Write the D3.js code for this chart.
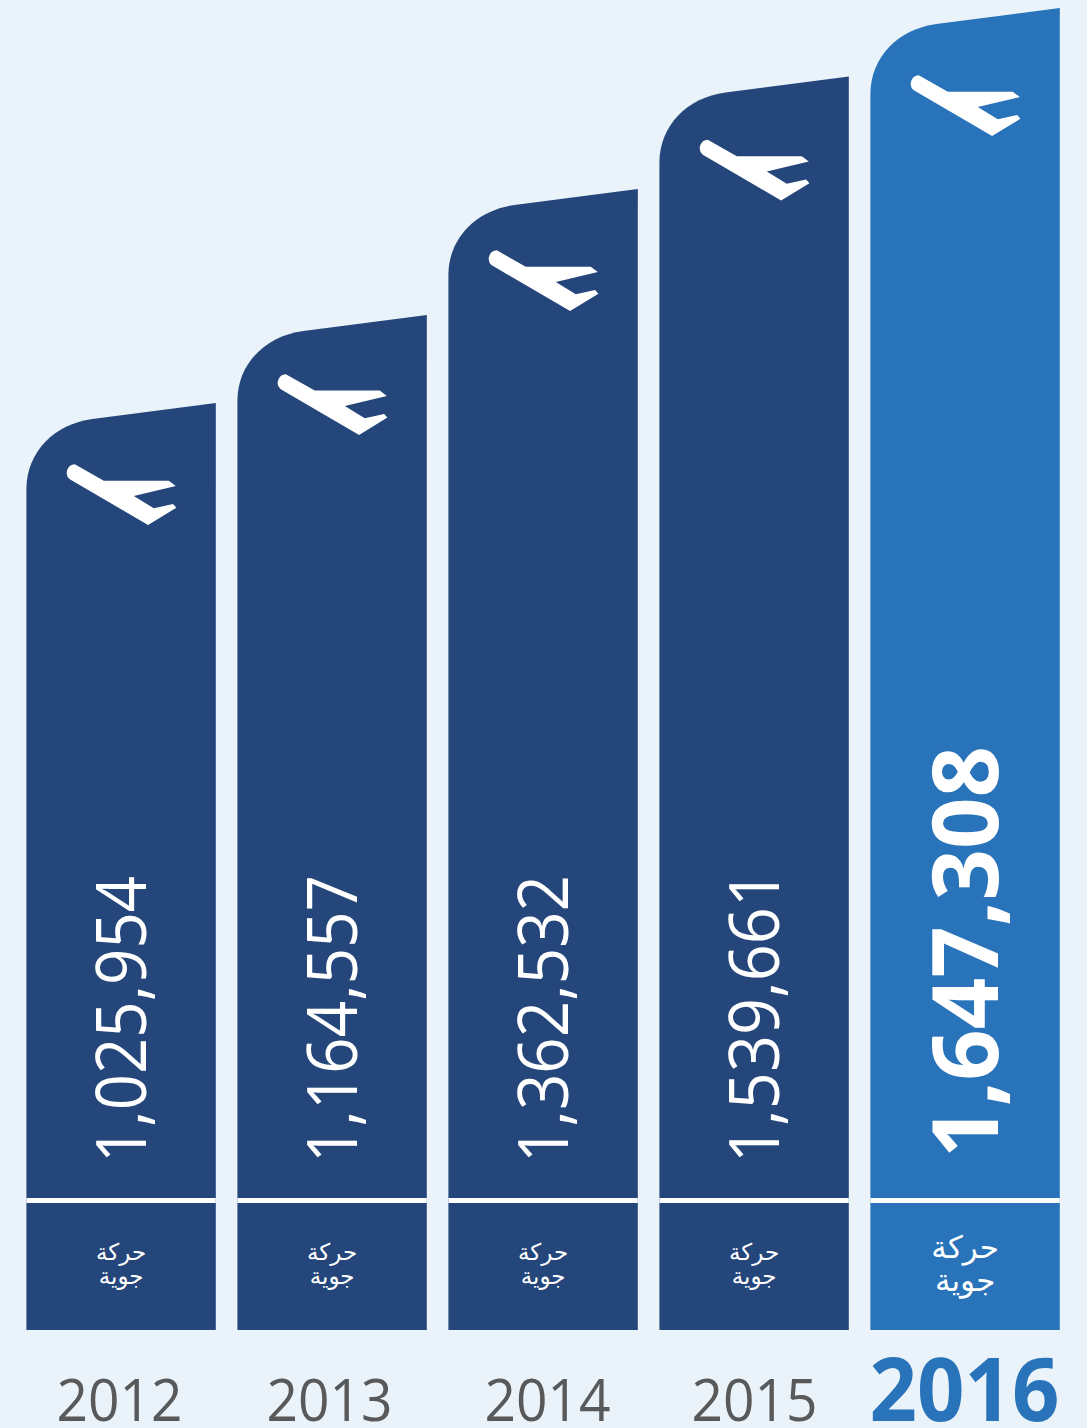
<!DOCTYPE html>
<html>
<head>
<meta charset="utf-8">
<script src="https://cdn.jsdelivr.net/npm/d3@7"></script>
<style>
html,body{margin:0;padding:0;background:#eaf3f9;}
svg{display:block;}
</style>
</head>
<body>
<div id="chart"></div>
<script>
var years = ["2012","2013","2014","2015","2016"];
var flights = [1025954,1164557,1362532,1539661,1647308];
var unitLines = ["حركة","جوية"];

var width = 1087, height = 1428;
var barBottom = 1330, ruleY = 1200;
var dark = "#24467a", bright = "#2873b9", grey = "#58595b";
var lastYear = "2016";

// plane and year label sit a little differently on each bar in the original
var planeNudge = {"2012":0,"2013":-2,"2014":0,"2015":2,"2016":6};
var yearNudge = {"2012":1,"2013":0,"2014":7,"2015":3,"2016":0};
// rotated figure lengths, the one ending in a 1 runs a bit longer
var figureLength = {"2012":287,"2013":288,"2014":288,"2015":293,"2016":412};

var svg = d3.select("#chart").append("svg")
	.attr("width",width)
	.attr("height",height);

svg.append("rect")
	.attr("width",width)
	.attr("height",height)
	.style("fill","#eaf3f9");

var x = d3.scaleBand().domain(years).range([26.4,1059.8]).paddingInner(21.6/211);
var y = d3.scaleLinear().domain([d3.min(flights),d3.max(flights)]).range([403,8]);
var fmt = d3.format(",");

function barColor(yr) {return yr==lastYear ? bright : dark;}

function barPath(d,i) {
	var l=x(d), r=l+x.bandwidth(), t=y(flights[i]);
	return "M"+l+","+barBottom+
		"L"+l+","+(t+86)+
		"C"+l+","+(t+49)+" "+(l+28)+","+(t+21)+" "+(l+66)+","+(t+16)+
		"L"+r+","+t+
		"L"+r+","+barBottom+"Z";
}

var planePath = "M43.4,76.3 A8.5,8.5 0 0 1 48.4,61.3 L77.4,77.7 L142.4,77.7 L149.4,83 L107.4,93 L127.4,105.3 L146.7,101 L150,104.7 L121.7,122 Z";

var bars = svg.selectAll("g.bar").data(years).enter().append("g").attr("class","bar");

bars.append("path")
	.attr("d",barPath)
	.style("fill",barColor);

bars.append("rect")
	.attr("x",function(d) {return x(d);})
	.attr("y",ruleY-2)
	.attr("width",x.bandwidth())
	.attr("height",5)
	.style("fill","#fff");

bars.append("path")
	.attr("d",planePath)
	.attr("transform",function(d,i) {return "translate("+x(d)+","+(y(flights[i])+planeNudge[d])+")";})
	.style("fill","#fff");

// the big rotated figures
bars.append("text")
	.attr("transform",function(d) {
		return d==lastYear ? "translate("+(x(d)+128)+",1158) rotate(-90)" : "translate("+(x(d)+119.5)+",1163) rotate(-90)";
	})
	.text(function(d,i) {return fmt(flights[i]);})
	.style("font-family","'Open Sans'")
	.style("font-size",function(d) {return d==lastYear ? "91px" : "69px";})
	.style("font-weight",function(d) {return d==lastYear ? "700" : "500";})
	.attr("textLength",function(d) {return figureLength[d];})
	.attr("lengthAdjust","spacingAndGlyphs")
	.style("fill","#fff");

unitLines.forEach(function(line,n) {
	bars.append("text")
		.attr("x",function(d) {return x(d)+x.bandwidth()/2;})
		.attr("y",function(d) {return d==lastYear ? 1258+n*33 : 1260+n*24;})
		.attr("text-anchor","middle")
		.text(line)
		.style("font-family","'DejaVu Sans'")
		.style("font-size",function(d) {return d==lastYear ? "31px" : "23px";})
		.style("fill","#fff");
});

bars.append("text")
	.attr("x",function(d) {return x(d)+(d==lastYear ? 94 : 92)+yearNudge[d];})
	.attr("y",1421)
	.attr("text-anchor","middle")
	.text(function(d) {return d;})
	.style("font-family","'Open Sans'")
	.style("font-size",function(d) {return d==lastYear ? "88px" : "58px";})
	.style("font-weight",function(d) {return d==lastYear ? "700" : "400";})
	.attr("textLength",function(d) {return d==lastYear ? 190 : 126;})
	.attr("lengthAdjust","spacingAndGlyphs")
	.style("fill",function(d) {return d==lastYear ? bright : grey;});
</script>
</body>
</html>
